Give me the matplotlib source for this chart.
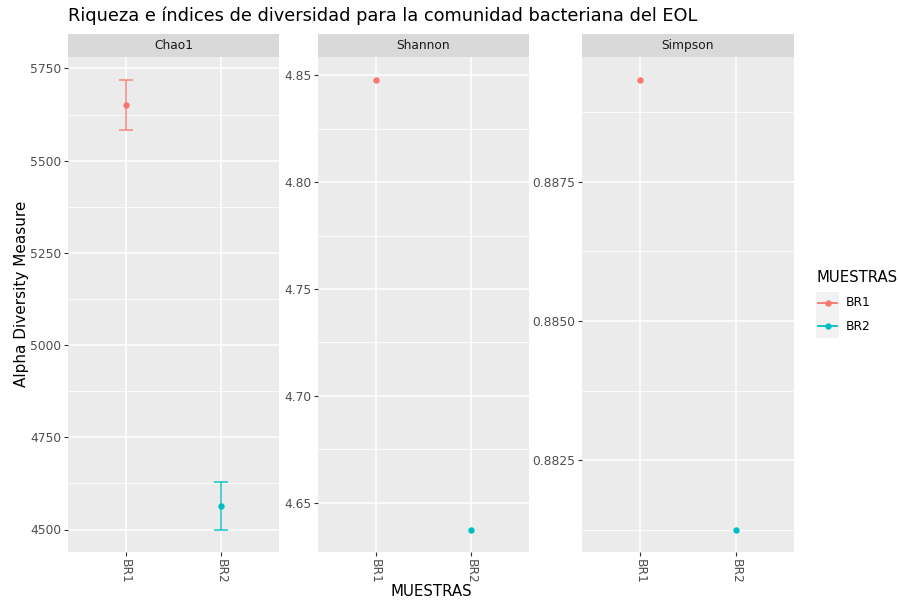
import numpy as np
import matplotlib
matplotlib.use("Agg")
import matplotlib.pyplot as plt
import matplotlib.ticker as mticker
from matplotlib.lines import Line2D

# alpha diversity per sample
samples = ["BR1", "BR2"]
chao1 = [5651, 4565]
chao1_se = [69, 65]
shannon = [4.848, 4.6375]
simpson = [0.88933, 0.88126]

measures = ["Chao1", "Shannon", "Simpson"]
values = [chao1, shannon, simpson]
errors = [chao1_se, None, None]
major_steps = [250, 0.05, 0.0025]
tick_fmt = ["{:.0f}", "{:.2f}", "{:.4f}"]

colors = ["#F8766D", "#00BFC4"]

W, H = 899, 601
PANEL_BG = "#EBEBEB"
STRIP_BG = "#D9D9D9"
TICK_COL = "#4D4D4D"

plt.rcParams.update({
    "font.family": "DejaVu Sans",
    "xtick.color": "#333333",
    "ytick.color": "#333333",
    "xtick.labelcolor": TICK_COL,
    "ytick.labelcolor": TICK_COL,
    "xtick.major.size": 2.75,
    "ytick.major.size": 2.75,
    "xtick.major.width": 0.8,
    "ytick.major.width": 0.8,
    "xtick.labelsize": 8.8,
    "ytick.labelsize": 8.8,
})

fig = plt.figure(figsize=(W / 100, H / 100), dpi=100)
fig.patch.set_facecolor("white")

# panel extents in pixels: (left, right)
panel_x = [(68, 279), (318, 529), (582, 794)]
p_top, p_bot = 57, 552
s_top = 34


def fbox(x0, x1, y0, y1):
    return [x0 / W, 1 - y1 / H, (x1 - x0) / W, (y1 - y0) / H]


xpos = np.arange(len(samples))

for (x0, x1), name, vals, err, step, fmt in zip(panel_x, measures, values, errors,
                                                major_steps, tick_fmt):
    ax = fig.add_axes(fbox(x0, x1, p_top, p_bot))
    ax.set_facecolor(PANEL_BG)
    for sp in ax.spines.values():
        sp.set_visible(False)

    for i, s in enumerate(samples):
        if err is not None:
            ax.errorbar(xpos[i], vals[i], yerr=err[i], fmt="none",
                        ecolor=colors[i], elinewidth=1.3, capsize=4.8,
                        capthick=1.3, alpha=0.75, zorder=3)
        ax.plot(xpos[i], vals[i], "o", ms=4.6, color=colors[i], mec="none", zorder=4)

    ax.margins(y=0.05)
    ax.set_xlim(-0.6, 1.6)
    ax.set_xticks(xpos)
    ax.set_xticklabels(samples, rotation=-90, va="top", ha="center")
    ax.yaxis.set_major_locator(mticker.MultipleLocator(step))
    ax.yaxis.set_minor_locator(mticker.MultipleLocator(step / 2))
    ax.yaxis.set_major_formatter(mticker.FuncFormatter(lambda v, p, f=fmt: f.format(v)))
    ax.tick_params(axis="y", which="minor", length=0)
    ax.tick_params(axis="both", which="major", pad=2)
    ax.grid(True, which="major", color="white", lw=1.1, zorder=0)
    ax.grid(True, which="minor", axis="y", color="white", lw=0.55, zorder=0)
    ax.set_axisbelow(True)

    # facet strip
    sx = fig.add_axes(fbox(x0, x1, s_top, p_top))
    sx.set_facecolor(STRIP_BG)
    sx.set_xticks([])
    sx.set_yticks([])
    for sp in sx.spines.values():
        sp.set_visible(False)
    sx.text(0.5, 0.5, name, ha="center", va="center", fontsize=8.8,
            color="#1A1A1A", transform=sx.transAxes)

fig.text(68 / W, 1 - 16 / H, "Riqueza e índices de diversidad para la comunidad bacteriana del EOL",
         ha="left", va="center", fontsize=12.8, color="black")
fig.text(22 / W, 1 - 294 / H, "Alpha Diversity Measure", rotation=90,
         ha="center", va="center", fontsize=11, color="black")
fig.text(431 / W, 1 - 591 / H, "MUESTRAS", ha="center", va="center",
         fontsize=10.8, color="black")

# legend
fig.text(816 / W, 1 - 278 / H, "MUESTRAS", ha="left", va="center", fontsize=10.7)
lx = fig.add_axes(fbox(816, 839, 292, 338))
lx.set_facecolor("#F2F2F2")
lx.set_xlim(0, 1)
lx.set_ylim(0, 2)
lx.set_xticks([])
lx.set_yticks([])
for sp in lx.spines.values():
    sp.set_visible(False)
for i, s in enumerate(samples):
    yk = 1.5 - i
    lx.add_line(Line2D([0.1, 0.9], [yk, yk], color=colors[i], lw=1.3))
    lx.plot(0.5, yk, "o", ms=4.6, color=colors[i], mec="none")
    fig.text(846 / W, 1 - (303 + 24 * i) / H, s, ha="left", va="center", fontsize=8.8)

fig.savefig("out.png", dpi=100, facecolor="white")
